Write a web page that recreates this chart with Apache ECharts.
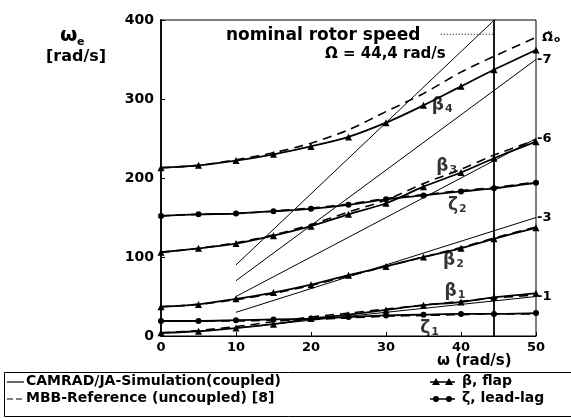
<!DOCTYPE html>
<html>
<head>
<meta charset="utf-8">
<script src="https://cdn.jsdelivr.net/npm/echarts@6/dist/echarts.min.js"></script>
<style>
  html, body { margin: 0; padding: 0; background: #fff; }
  #chart { width: 571px; height: 418px; }
</style>
</head>
<body>
<div id="chart"></div>
<script>
// rotor speed samples (rad/s) and eigenfrequencies (rad/s)
const omega = [0, 5, 10, 15, 20, 25, 30, 35, 40, 44.4, 50]
const beta1 = [4, 6, 10, 15, 22, 27, 33, 39, 43, 49, 54]
const zeta1 = [19, 19, 20, 21, 22, 24, 26, 27, 28, 28, 29]
const beta2 = [37, 40, 47, 55, 65, 77, 88, 100, 111, 123, 137]
const beta3 = [106, 111, 117, 127, 139, 154, 168, 189, 207, 225, 246]
const zeta2 = [152, 154, 155, 158, 161, 166, 173, 178, 183, 187, 194]
const beta4 = [213, 216, 222, 230, 240, 252, 270, 292, 316, 337, 362]

// MBB reference (uncoupled), dashed
const beta1Ref = [4, 7, 12, 18, 24, 29, 34, 39, 44, 48, 52]
const zeta1Ref = [19, 19, 19, 20, 21, 23, 25, 26, 27, 28, 28]
const beta2Ref = [37, 40, 46, 54, 64, 76, 88, 100, 112, 124, 138]
const beta3Ref = [106, 111, 118, 128, 141, 157, 172, 193, 211, 229, 248]
const zeta2Ref = [152, 154, 155, 158, 162, 167, 174, 179, 184, 188, 195]
const beta4Ref = [213, 216, 223, 232, 244, 261, 284, 307, 334, 354, 378]

// n/rev excitation lines
const rev1 = [[10, 10], [50, 50]]
const rev3 = [[10, 30], [50, 150]]
const rev5 = [[10, 50], [50, 250]]
const rev7 = [[10, 70], [50, 350]]
const rev9 = [[10, 90], [50, 450]]
const revTags = ['-1', '-3', '-6', '-7', '']

const omegaNominal = 44.4
const xTicks = [0, 10, 20, 30, 40, 50]
const yTicks = [0, 100, 200, 300, 400]

// mode name tags
const tagSym = ['β', 'β', 'ζ', 'β', 'β', 'ζ']
const tagSub = ['4', '3', '2', '2', '1', '1']
const tagX = [37.5, 38.1, 39.5, 39, 39.2, 35.8]
const tagY = [292, 215, 165, 96, 56, 9]

const FONT = 'DejaVu Sans'
const zip = (xs, ys) => xs.map((x, i) => [x, ys[i]])

function modeSeries (name, vals, sym) {
  return {
    name: name,
    type: 'line',
    smooth: 0.3,
    data: zip(omega, vals),
    symbol: sym,
    symbolSize: sym === 'triangle' ? 7 : 6,
    lineStyle: {color: '#000', width: 1.8},
    itemStyle: {color: '#000'},
    z: 5
  }
}
function refSeries (name, vals, extra) {
  return Object.assign({
    name: name,
    type: 'line',
    smooth: 0.3,
    data: zip(omega, vals),
    symbol: 'none',
    lineStyle: {color: '#000', width: 1.6, type: [9, 6]},
    z: 4
  }, extra || {})
}
function revSeries (data, tag) {
  return {
    type: 'line',
    data: data,
    symbol: 'none',
    lineStyle: {color: '#000', width: 1},
    endLabel: {
      show: tag !== '',
      formatter: tag,
      color: '#000',
      fontFamily: FONT,
      fontWeight: 'bold',
      fontSize: 13,
      distance: 1
    },
    z: 3
  }
}

const txt = {fontFamily: FONT, fontWeight: 'bold', fill: '#000'}

let myChart = echarts.init(document.getElementById('chart'))
let option = {
  animation: false,
  backgroundColor: '#fff',
  grid: {left: 161, right: 35, top: 20, bottom: 82, show: true, borderColor: '#000', borderWidth: 1},
  xAxis: {
    type: 'value', min: 0, max: 50, interval: 10,
    axisLine: {lineStyle: {color: '#000', width: 1}},
    axisTick: {inside: true, length: 4, lineStyle: {color: '#000'}},
    splitLine: {show: false},
    axisLabel: {color: '#000', fontFamily: FONT, fontWeight: 'bold', fontSize: 13, margin: 5,
      formatter: v => xTicks.indexOf(v) >= 0 ? String(v) : ''}
  },
  yAxis: {
    type: 'value', min: 0, max: 400, interval: 100,
    axisLine: {show: true, lineStyle: {color: '#000', width: 1.8}},
    axisTick: {show: true, inside: true, length: 4, lineStyle: {color: '#000'}},
    splitLine: {show: false},
    axisLabel: {color: '#000', fontFamily: FONT, fontWeight: 'bold', fontSize: 14, margin: 7,
      formatter: v => yTicks.indexOf(v) >= 0 ? String(v) : ''}
  },
  series: [
    modeSeries('β1', beta1, 'triangle'),
    modeSeries('ζ1', zeta1, 'circle'),
    modeSeries('β2', beta2, 'triangle'),
    modeSeries('β3', beta3, 'triangle'),
    modeSeries('ζ2', zeta2, 'circle'),
    modeSeries('β4', beta4, 'triangle'),
    refSeries('β1 ref', beta1Ref),
    refSeries('ζ1 ref', zeta1Ref),
    refSeries('β2 ref', beta2Ref),
    refSeries('β3 ref', beta3Ref),
    refSeries('ζ2 ref', zeta2Ref),
    refSeries('β4 ref', beta4Ref, {
      endLabel: {
        show: true,
        formatter: '{a|Ω̃}{b|o}',
        distance: 6,
        rich: {
          a: {fontFamily: FONT, fontWeight: 'bold', fontSize: 13, color: '#000'},
          b: {fontFamily: FONT, fontWeight: 'bold', fontSize: 9, color: '#000', padding: [5, 0, 0, 1]}
        }
      }
    }),
    revSeries(rev1, revTags[0]),
    revSeries(rev3, revTags[1]),
    revSeries(rev5, revTags[2]),
    revSeries(rev7, revTags[3]),
    revSeries(rev9, revTags[4]),
    {
      type: 'line',
      data: [[omegaNominal, 0], [omegaNominal, 400]],
      symbol: 'none',
      lineStyle: {color: '#000', width: 1.8},
      z: 6
    },
    {
      type: 'line',
      data: [[37.3, 382], [omegaNominal, 382]],
      symbol: 'none',
      lineStyle: {color: '#000', width: 1, type: [1, 2]},
      z: 6
    },
    {
      type: 'scatter',
      symbolSize: 0,
      data: tagX.map((x, i) => [x, tagY[i]]),
      label: {
        show: true,
        position: 'inside',
        formatter: p => '{s|' + tagSym[p.dataIndex] + '}{d|' + tagSub[p.dataIndex] + '}',
        rich: {
          s: {fontFamily: FONT, fontWeight: 'bold', fontSize: 17, color: '#000'},
          d: {fontFamily: FONT, fontWeight: 'bold', fontSize: 11, color: '#000', padding: [7, 0, 0, 1]}
        }
      },
      z: 7
    }
  ],
  graphic: [
    // axis titles
    {type: 'text', left: 60, top: 26, style: Object.assign({text: 'ω', fontSize: 20}, txt)},
    {type: 'text', left: 77, top: 37, style: Object.assign({text: 'e', fontSize: 11}, txt)},
    {type: 'text', left: 46, top: 49, style: Object.assign({text: '[rad/s]', fontSize: 16}, txt)},
    {type: 'text', left: 437, top: 354, style: Object.assign({text: 'ω (rad/s)', fontSize: 15}, txt)},
    // nominal speed annotation
    {type: 'text', left: 226, top: 27, style: Object.assign({text: 'nominal rotor speed', fontSize: 17}, txt)},
    {type: 'text', left: 325, top: 47, style: Object.assign({text: 'Ω = 44,4 rad/s', fontSize: 15}, txt)},
    // legend box
    {type: 'rect', shape: {x: 4.5, y: 372.5, width: 580, height: 44}, style: {fill: 'none', stroke: '#000', lineWidth: 1}},
    {type: 'line', shape: {x1: 7, y1: 382, x2: 24, y2: 382}, style: {stroke: '#000', lineWidth: 1.2}},
    {type: 'text', left: 26, top: 374, style: Object.assign({text: 'CAMRAD/JA-Simulation(coupled)', fontSize: 14}, txt)},
    {type: 'line', shape: {x1: 7, y1: 399, x2: 24, y2: 399}, style: {stroke: '#000', lineWidth: 1.2, lineDash: [6, 3]}},
    {type: 'text', left: 26, top: 391, style: Object.assign({text: 'MBB-Reference (uncoupled) [8]', fontSize: 14}, txt)},
    {type: 'line', shape: {x1: 430, y1: 382, x2: 455, y2: 382}, style: {stroke: '#000', lineWidth: 1.5}},
    {type: 'polygon', shape: {points: [[432, 385], [436, 378], [440, 385]]}, style: {fill: '#000'}},
    {type: 'polygon', shape: {points: [[445, 385], [449, 378], [453, 385]]}, style: {fill: '#000'}},
    {type: 'text', left: 462, top: 374, style: Object.assign({text: 'β, flap', fontSize: 14}, txt)},
    {type: 'line', shape: {x1: 430, y1: 399, x2: 455, y2: 399}, style: {stroke: '#000', lineWidth: 1.5}},
    {type: 'circle', shape: {cx: 436, cy: 399, r: 3}, style: {fill: '#000'}},
    {type: 'circle', shape: {cx: 449, cy: 399, r: 3}, style: {fill: '#000'}},
    {type: 'text', left: 462, top: 391, style: Object.assign({text: 'ζ, lead-lag', fontSize: 14}, txt)}
  ]
}
myChart.setOption(option, true)
</script>
</body>
</html>
